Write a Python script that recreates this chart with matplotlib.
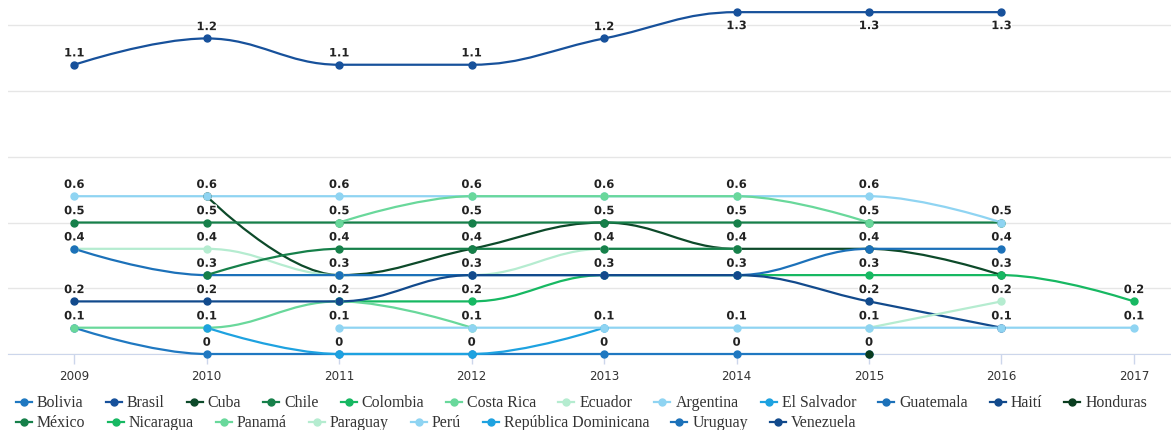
# smoothed yearly lines for several countries, highcharts-like look

import numpy as np
import matplotlib
matplotlib.use("Agg")
import matplotlib.pyplot as plt
import matplotlib.patheffects as pe
from matplotlib.path import Path
from matplotlib.patches import PathPatch
from matplotlib.lines import Line2D

years = [2009, 2010, 2011, 2012, 2013, 2014, 2015, 2016, 2017]

countries = ["Bolivia", "Brasil", "Cuba", "Chile", "Colombia", "Costa Rica",
             "Ecuador", "Argentina", "El Salvador", "Guatemala", "Haití",
             "Honduras", "México", "Nicaragua", "Panamá", "Paraguay", "Perú",
             "República Dominicana", "Uruguay", "Venezuela"]

colors = ["#1f78c1", "#17519b", "#0d4a2a", "#16804a", "#17b862", "#69d89b",
          "#b5ecd0", "#8fd4f2", "#1ea2e0", "#1c71b9", "#124a8c", "#0a3d1f",
          "#16804a", "#17b862", "#69d89b", "#b5ecd0", "#8fd4f2", "#1ea2e0",
          "#1c71b9", "#124a8c"]

N = None
bolivia     = [0.1, 0.0, 0.0, 0.0, 0.0, 0.0, 0.0, N, N]
brasil      = [1.1, 1.2, 1.1, 1.1, 1.2, 1.3, 1.3, 1.3, N]
cuba        = [N, 0.6, 0.3, 0.4, 0.5, 0.4, 0.4, 0.3, N]
chile       = [0.5, 0.5, 0.5, 0.5, 0.5, 0.5, 0.5, 0.5, N]
colombia    = [N, N, 0.2, 0.2, 0.3, 0.3, 0.3, 0.3, 0.2]
costa_rica  = [0.1, 0.1, 0.2, 0.1, N, N, N, N, N]
ecuador     = [0.4, 0.4, 0.3, 0.3, 0.4, 0.4, N, N, N]
argentina   = [0.6, 0.6, 0.6, 0.6, 0.6, 0.6, 0.6, 0.5, N]
el_salvador = [N, 0.1, 0.0, 0.0, 0.1, N, N, N, N]
guatemala   = [0.4, 0.3, 0.3, 0.3, 0.3, 0.3, 0.4, 0.4, N]
haiti       = [0.2, 0.2, 0.2, 0.3, 0.3, 0.3, 0.2, 0.1, N]
honduras    = [N, N, N, N, N, N, 0.0, N, N]
mexico      = [N, 0.3, 0.4, 0.4, 0.4, 0.4, N, N, N]
nicaragua   = [N] * 9
panama      = [N, N, 0.5, 0.6, 0.6, 0.6, 0.5, N, N]
paraguay    = [N, N, N, N, N, N, 0.1, 0.2, N]
peru        = [N, N, 0.1, 0.1, 0.1, 0.1, 0.1, 0.1, 0.1]
rep_dom     = [N] * 9
uruguay     = [N] * 9
venezuela   = [N] * 9

series = [bolivia, brasil, cuba, chile, colombia, costa_rica, ecuador,
          argentina, el_salvador, guatemala, haiti, honduras, mexico,
          nicaragua, panama, paraguay, peru, rep_dom, uruguay, venezuela]


# control points the way highcharts builds its spline
def controls(xs, ys, i, smoothing=1.5):
    n = len(xs)
    x, y = xs[i], ys[i]
    if i == 0 or i == n - 1:
        return (x, y), (x, y)
    lx, ly = xs[i - 1], ys[i - 1]
    nx, ny = xs[i + 1], ys[i + 1]
    d = smoothing + 1
    lcx = (smoothing * x + lx) / d
    lcy = (smoothing * y + ly) / d
    rcx = (smoothing * x + nx) / d
    rcy = (smoothing * y + ny) / d
    if rcx != lcx:
        corr = (rcy - lcy) * (rcx - x) / (rcx - lcx) + y - rcy
        lcy += corr
        rcy += corr
    if lcy > ly and lcy > y:
        lcy = max(ly, y)
        rcy = 2 * y - lcy
    elif lcy < ly and lcy < y:
        lcy = min(ly, y)
        rcy = 2 * y - lcy
    if rcy > ny and rcy > y:
        rcy = max(ny, y)
        lcy = 2 * y - rcy
    elif rcy < ny and rcy < y:
        rcy = min(ny, y)
        lcy = 2 * y - rcy
    return (lcx, lcy), (rcx, rcy)


def spline_path(xs, ys):
    verts = [(xs[0], ys[0])]
    codes = [Path.MOVETO]
    for i in range(1, len(xs)):
        _, rc = controls(xs, ys, i - 1)
        lc, _ = controls(xs, ys, i)
        verts += [rc, lc, (xs[i], ys[i])]
        codes += [Path.CURVE4] * 3
    return Path(verts, codes)


W, H = 1171, 431
fig = plt.figure(figsize=(W / 100, H / 100), dpi=100)
ax = fig.add_axes([8 / W, (H - 355) / H, 1 - 8 / W, 350 / H])

ax.set_xlim(2008.5, 2017.28)
ax.set_ylim(0, 1.331)

for k, vals in enumerate(series):
    xs = [yr for yr, v in zip(years, vals) if v is not None]
    ys = [v for v in vals if v is not None]
    if not xs:
        continue
    c = colors[k]
    if len(xs) > 1:
        ax.add_patch(PathPatch(spline_path(xs, ys), facecolor="none",
                               edgecolor=c, lw=1.6, zorder=3 + k * 0.01,
                               capstyle="round", clip_on=False))
    ax.plot(xs, ys, "o", ms=5, color=c, mec=c, zorder=4 + k * 0.01,
            clip_on=False)
    for x, y in zip(xs, ys):
        # labels that would leave the plot go under the point instead
        if y > 1.25:
            off, va = (0, -5), "top"
        else:
            off, va = (0, 6), "baseline"
        ax.annotate(f"{y:g}", (x, y), xytext=off, textcoords="offset points",
                    ha="center", va=va, fontsize=8.3, fontweight="bold",
                    color="#222222", zorder=10,
                    path_effects=[pe.withStroke(linewidth=2, foreground="white")])

# axes look
for s in ["top", "right", "left"]:
    ax.spines[s].set_visible(False)
ax.spines["bottom"].set_color("#ccd6eb")
ax.spines["bottom"].set_zorder(1)
ax.set_yticks(np.arange(0, 1.26, 0.25))
ax.yaxis.grid(True, color="#e6e6e6", lw=1)
ax.set_axisbelow(True)
ax.tick_params(axis="y", left=False, labelleft=False)
ax.set_xticks(years)
ax.set_xticklabels([str(y) for y in years])
ax.tick_params(axis="x", length=7, width=1, color="#ccd6eb", pad=4,
               labelsize=8.6, labelcolor="#333333")

# legend, flowing left to right like the original
fig.canvas.draw()
renderer = fig.canvas.get_renderer()
x, row_y = 16, 403
for name, c in zip(countries, colors):
    t = fig.text((x + 21) / W, 1 - row_y / H, name, family="Liberation Serif",
                 fontsize=11.4, va="center", ha="left", color="#333333")
    w = t.get_window_extent(renderer).width
    if x + 21 + w > 1165:
        x, row_y = 16, row_y + 20
        t.set_position(((x + 21) / W, 1 - row_y / H))
    ln = Line2D([x / W, (x + 16) / W], [1 - row_y / H] * 2, color=c, lw=1.6,
                transform=fig.transFigure)
    dot = Line2D([(x + 8) / W], [1 - row_y / H], marker="o", ms=5, color=c,
                 transform=fig.transFigure)
    fig.add_artist(ln)
    fig.add_artist(dot)
    x = x + 21 + w + 22

fig.savefig("out.png", dpi=100)
